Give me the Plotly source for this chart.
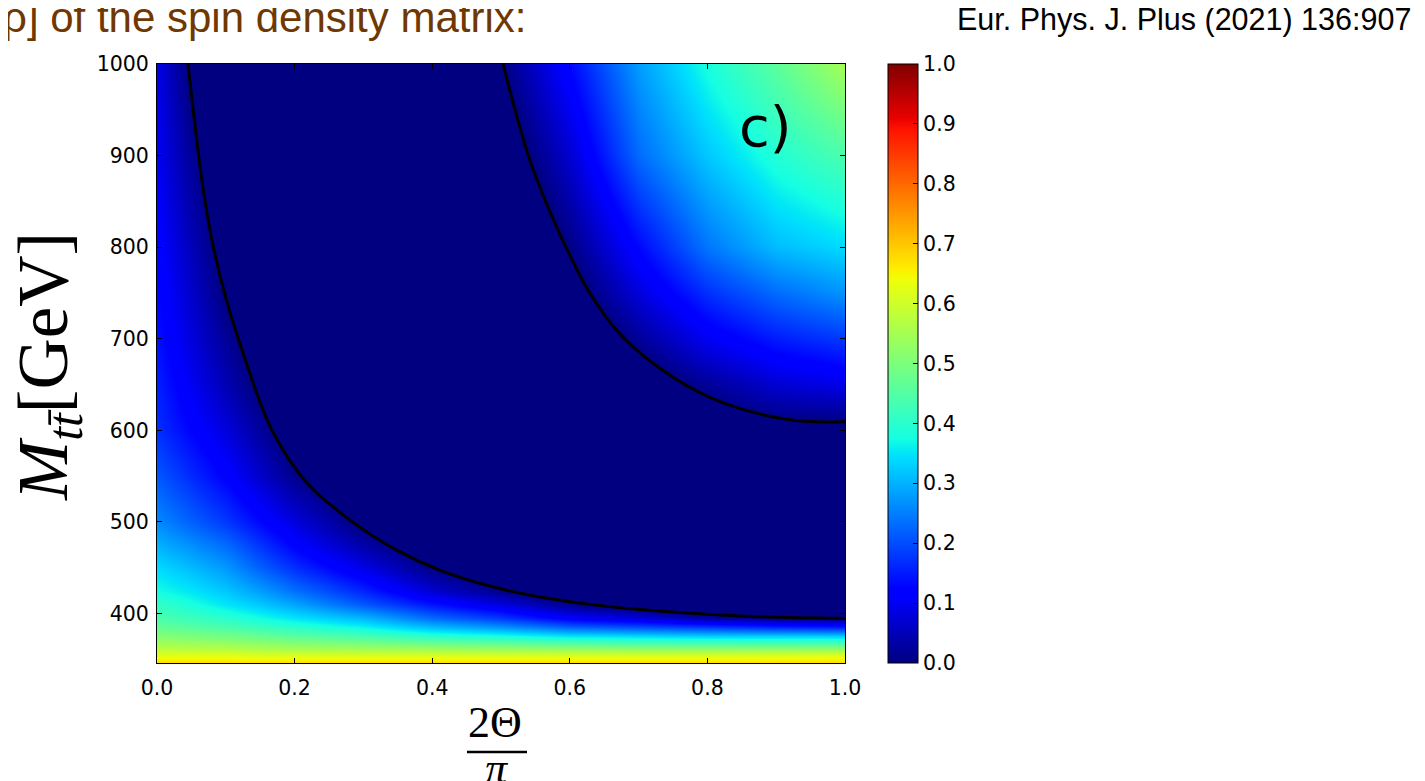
import numpy as np
import plotly.graph_objects as go

# ---------------- data ----------------
theta_frac = [0.0, 0.05, 0.1, 0.15, 0.2, 0.3, 0.4, 0.5, 0.6, 0.7, 0.8, 0.9, 1.0]   # 2Θ/π
mass_gev = [346, 355, 365, 375, 385, 395, 410, 425, 450, 475, 500,
            550, 600, 650, 700, 750, 800, 900, 1000]                              # M_tt [GeV]

# estimated value of the plotted quantity (values below 0 are shown as 0)
value_grid = [
    [0.68, 0.68, 0.68, 0.68, 0.68, 0.68, 0.68, 0.68, 0.68, 0.68, 0.68, 0.68, 0.68],          # 346
    [0.62, 0.62, 0.62, 0.61, 0.61, 0.61, 0.61, 0.61, 0.61, 0.61, 0.61, 0.615, 0.62],         # 355
    [0.56, 0.555, 0.55, 0.54, 0.53, 0.52, 0.51, 0.50, 0.49, 0.48, 0.48, 0.48, 0.48],         # 365
    [0.51, 0.50, 0.49, 0.475, 0.46, 0.435, 0.40, 0.38, 0.35, 0.34, 0.33, 0.33, 0.33],        # 375
    [0.47, 0.455, 0.44, 0.42, 0.40, 0.365, 0.31, 0.27, 0.22, 0.20, 0.18, 0.16, 0.15],        # 385
    [0.44, 0.42, 0.40, 0.375, 0.35, 0.305, 0.23, 0.18, 0.11, 0.08, 0.03, 0.01, 0.00],        # 395
    [0.41, 0.38, 0.35, 0.32, 0.285, 0.21, 0.14, 0.08, 0.01, -0.04, -0.07, -0.09, -0.10],     # 410
    [0.375, 0.35, 0.32, 0.28, 0.235, 0.16, 0.07, 0.01, -0.05, -0.10, -0.12, -0.14, -0.15],   # 425
    [0.34, 0.31, 0.275, 0.22, 0.17, 0.09, 0.005, -0.04, -0.10, -0.15, -0.18, -0.20, -0.20],  # 450
    [0.30, 0.265, 0.23, 0.175, 0.12, 0.035, -0.03, -0.08, -0.14, -0.18, -0.20, -0.20, -0.20],# 475
    [0.26, 0.22, 0.18, 0.13, 0.08, -0.01, -0.06, -0.12, -0.16, -0.16, -0.16, -0.16, -0.16],  # 500
    [0.21, 0.165, 0.12, 0.065, 0.01, -0.05, -0.10, -0.14, -0.14, -0.12, -0.08, -0.06, -0.05],# 550
    [0.17, 0.125, 0.08, 0.025, -0.03, -0.08, -0.12, -0.14, -0.12, -0.08, -0.03, -0.015, -0.015], # 600
    [0.155, 0.10, 0.045, -0.01, -0.05, -0.10, -0.14, -0.14, -0.10, -0.04, 0.02, 0.07, 0.09], # 650
    [0.14, 0.08, 0.02, -0.03, -0.07, -0.12, -0.14, -0.14, -0.07, 0.02, 0.10, 0.15, 0.18],    # 700
    [0.13, 0.065, -0.005, -0.05, -0.09, -0.12, -0.14, -0.12, -0.03, 0.08, 0.17, 0.23, 0.27], # 750
    [0.12, 0.05, -0.02, -0.06, -0.10, -0.12, -0.14, -0.10, 0.005, 0.13, 0.24, 0.31, 0.34],   # 800
    [0.10, 0.02, -0.04, -0.08, -0.10, -0.12, -0.12, -0.05, 0.07, 0.23, 0.32, 0.39, 0.44],    # 900
    [0.09, -0.01, -0.06, -0.10, -0.12, -0.14, -0.12, 0.00, 0.13, 0.28, 0.38, 0.46, 0.55],    # 1000
]

# zero-level contour lines
lower_contour_x = [0.045, 0.0596, 0.0695, 0.0828, 0.101, 0.1188, 0.167, 0.218, 0.286, 0.349, 0.411, 0.484, 0.557, 0.629, 0.702, 0.847, 1.0]
lower_contour_m = [1000, 906, 851.5, 797, 742.3, 698.7, 600.4, 542.5, 499, 469, 447.5, 430, 418, 410, 404.4, 397.3, 394.6]
upper_contour_x = [0.503, 0.542, 0.581, 0.629, 0.677, 0.75, 0.823, 0.92, 1.0]
upper_contour_m = [1000, 895, 822, 750, 702, 658, 630, 611.5, 609.5]

x_ticks = [0.0, 0.2, 0.4, 0.6, 0.8, 1.0]
y_ticks = [400, 500, 600, 700, 800, 900, 1000]
cbar_ticks = [0.0, 0.1, 0.2, 0.3, 0.4, 0.5, 0.6, 0.7, 0.8, 0.9, 1.0]

# ---------------- matplotlib "jet" colour map ----------------
def jet_colorscale():
    stops = [0, 0.11, 0.125, 0.34, 0.35, 0.375, 0.64, 0.65, 0.66, 0.89, 0.91, 1.0]
    red = ([0, 0.35, 0.66, 0.89, 1], [0, 0, 1, 1, 0.5])
    green = ([0, 0.125, 0.375, 0.64, 0.91, 1], [0, 0, 1, 1, 0, 0])
    blue = ([0, 0.11, 0.34, 0.65, 1], [0.5, 1, 1, 0, 0])
    cs = []
    for s in stops:
        r = np.interp(s, *red)
        g = np.interp(s, *green)
        b = np.interp(s, *blue)
        cs.append([s, f"rgb({int(round(r*255))},{int(round(g*255))},{int(round(b*255))})"])
    return cs

# page pixel positions (the page body adds an 8 px offset)
OFF = 8
W, H = 1425 - OFF, 781 - OFF
L, R, T, B = 157, 845, 64, 663
pw, ph = R - L, B - T

def px(xp):
    return (xp - L) / pw

def py(yp):
    return (B - yp) / ph

tickfont = dict(family="DejaVu Sans", size=20.5, color="black")

fig = go.Figure()
fig.add_trace(go.Heatmap(
    x=theta_frac, y=mass_gev, z=value_grid,
    zmin=0, zmax=1, zsmooth="best",
    colorscale=jet_colorscale(),
    colorbar=dict(
        x=px(888), xanchor="left", xpad=0, ypad=0,
        y=0.5, yanchor="middle", len=1, lenmode="fraction",
        thickness=30, outlinecolor="black", outlinewidth=1,
        tickvals=cbar_ticks, tickformat=".1f",
        ticks="inside", ticklen=5, tickcolor="black",
        tickfont=tickfont,
    ),
    hoverinfo="skip",
))
for cx, cm in ((lower_contour_x, lower_contour_m), (upper_contour_x, upper_contour_m)):
    fig.add_trace(go.Scatter(x=cx, y=cm, mode="lines",
                             line=dict(color="black", width=3, shape="spline", smoothing=1.0),
                             showlegend=False, hoverinfo="skip"))

axis_common = dict(showline=True, linecolor="black", linewidth=1, mirror="ticks",
                   ticks="inside", ticklen=5, tickcolor="black", tickfont=tickfont,
                   showgrid=False, zeroline=False)
fig.update_xaxes(range=[0, 1], tickvals=x_ticks, tickformat=".1f", ticklabelstandoff=6, **axis_common)
fig.update_yaxes(range=[346, 1000], tickvals=y_ticks, ticklabelstandoff=3, **axis_common)

annotations = [
    dict(text="c)", x=0.884, y=932, xref="x", yref="y", showarrow=False,
         font=dict(family="DejaVu Sans", size=56, color="black")),
    dict(text="<i>M</i><sub><i>tt\u0304</i></sub>[GeV]", x=px(48), y=py(367), xref="paper", yref="paper",
         textangle=-90, showarrow=False, xanchor="center", yanchor="middle",
         font=dict(family="Liberation Serif", size=71, color="black")),
    dict(text="2Θ", x=px(495), y=py(722), xref="paper", yref="paper", showarrow=False,
         xanchor="center", yanchor="middle",
         font=dict(family="Liberation Serif", size=44, color="black")),
    dict(text="<i>π</i>", x=px(497), y=py(768), xref="paper", yref="paper", showarrow=False,
         xanchor="center", yanchor="middle",
         font=dict(family="Liberation Serif", size=44, color="black")),
    dict(text="ρ] of the spin density matrix:", x=px(1), y=py(17), xref="paper", yref="paper",
         showarrow=False, xanchor="left", yanchor="middle",
         font=dict(family="Liberation Sans", size=42, color="rgb(112,56,0)")),
    dict(text="Eur. Phys. J. Plus (2021) 136:907", x=px(1413), y=py(19), xref="paper", yref="paper",
         showarrow=False, xanchor="right", yanchor="middle",
         font=dict(family="Liberation Sans", size=30.5, color="black")),
]
fig.update_layout(
    width=W, height=H,
    margin=dict(l=L - OFF, r=W - (R - OFF), t=T - OFF, b=H - (B - OFF), autoexpand=False),
    paper_bgcolor="white", plot_bgcolor="white",
    showlegend=False,
    annotations=annotations,
    shapes=[dict(type="line", xref="paper", yref="paper",
                 x0=px(467), x1=px(527), y0=py(752), y1=py(752),
                 line=dict(color="black", width=2.5))],
)
fig.write_html("out.html")
